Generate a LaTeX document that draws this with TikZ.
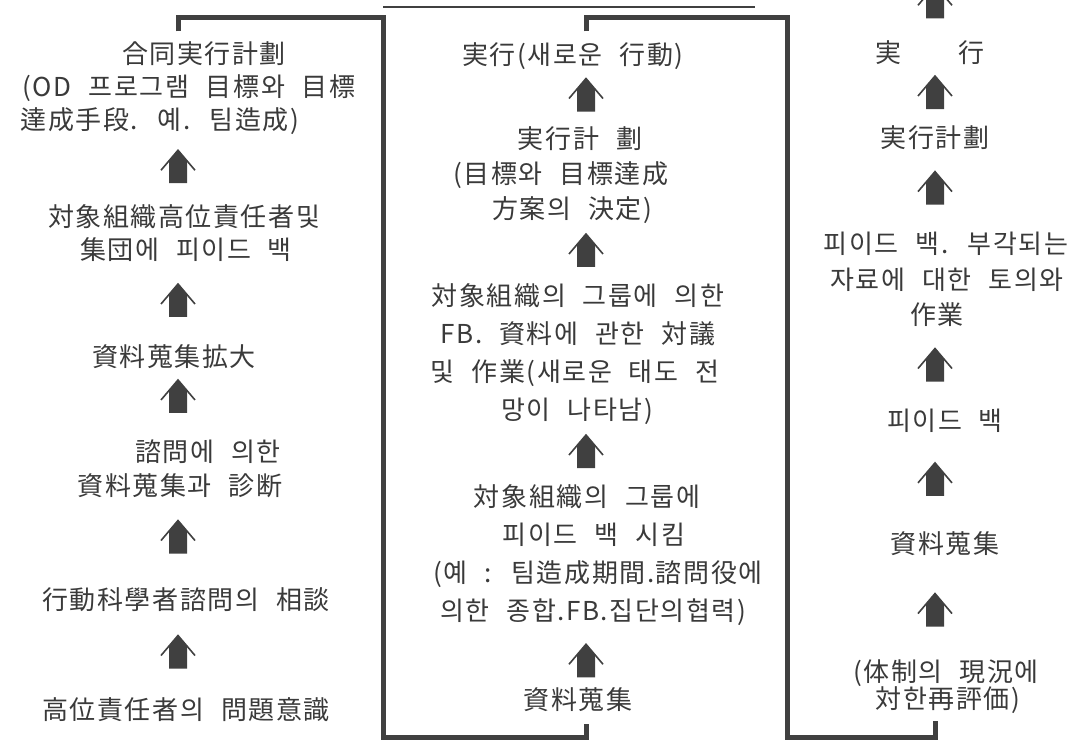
\documentclass[tikz,border=0pt]{standalone}
\usepackage{fontspec}
\setmainfont{Noto Sans CJK KR}[LetterSpace=6,WordSpace=2.3]
\usetikzlibrary{calc}
\definecolor{ink}{HTML}{404040}
\definecolor{txt}{HTML}{3A3A3A}
\newcommand\lsp[1]{\fontsize{26}{#1}\selectfont}
\newcommand\gap[1]{\rule{#1pt}{0pt}}
\tikzset{
  stepbox/.style={inner sep=0pt, align=center, text=txt, font=\lsp{34}},
  conn/.style={draw=ink, line width=5pt, line join=miter},
  rule line/.style={draw=ink, line width=1.4pt},
  uparr/.pic={
    \fill[ink] (-9,13.5) -- (-9,-9) -- (0,-19.5) -- (9,-9) -- (9,13.5) -- cycle;
    \draw[ink, line width=1.6pt] (-17,0.5) -- (0,-19.5) -- (17,0.5);
  }
}
\begin{document}
\begin{tikzpicture}[x=1pt,y=-1pt]
\useasboundingbox (0,0) rectangle (1084,742);
\clip (0,0) rectangle (1084,742);
\fill[white] (0,0) rectangle (1084,742);

% left column
\node[stepbox, font=\lsp{33}] (L1) at (178,88) {\gap{52}合同実行計劃\\\gap{22}(OD 프로그램 目標와 目標\\達成手段. 예. 팀造成)\gap{36}};
\node[stepbox, font=\lsp{33}] (L2) at (178,233.5) {\gap{12}対象組織高位責任者및\\\gap{16}集団에 피이드 백};
\node[stepbox] (L3) at (178,357) {資料蒐集拡大\gap{8}};
\node[stepbox] (L4) at (178,469) {\gap{60}諮問에 의한\\\gap{4}資料蒐集과 診断};
\node[stepbox] (L5) at (178,600) {\gap{16}行動科學者諮問의 相談};
\node[stepbox] (L6) at (178,710) {\gap{16}高位責任者의 問題意識};

% centre column
\node[stepbox] (C1) at (586,56) {実行(새로운 行動)\gap{26}};
\node[stepbox, font=\lsp{35}] (C2) at (586,175) {実行計 劃\gap{12}\\(目標와 目標達成\gap{50}\\方案의 決定)\gap{28}};
\node[stepbox, font=\lsp{38}] (C3) at (586,354) {対象組織의 그룹에 의한\gap{16}\\FB. 資料에 관한 対議\gap{16}\\및 作業(새로운 태도 전\gap{22}\\망이 나타남)\gap{18}};
\node[stepbox, font=\lsp{38}] (C4) at (586,555) {\gap{2}対象組織의 그룹에\\\gap{16}피이드 백 시킴\\\gap{24}(예 : 팀造成期間.諮問役에\\\gap{14}의한 종합.FB.집단의협력)};
\node[stepbox] (C5) at (586,700) {資料蒐集\gap{16}};

% right column
\node[stepbox] (R1) at (935,53) {実　　行\gap{10}};
\node[stepbox] (R2) at (935,138) {実行計劃};
\node[stepbox, font=\lsp{35.5}] (R3) at (935,279.5) {\gap{22}피이드 백. 부각되는\\\gap{24}자료에 대한 토의와\\\gap{4}作業};
\node[stepbox] (R4) at (935,421) {\gap{20}피이드 백};
\node[stepbox] (R5) at (935,544) {\gap{20}資料蒐集};
\node[stepbox, font=\lsp{27}] (R6) at (935,687) {\gap{22}(体制의 現況에\\\gap{26}対한再評価)};

% block arrows
\pic at ($(L1.south)!.5!(L2.north)$) {uparr};
\pic at ($(L2.south)!.5!(L3.north)$) {uparr};
\pic at ($(L3.south)!.5!(L4.north)+(0,-5)$) {uparr};
\pic at ($(L4.south)!.5!(L5.north)+(0,-3)$) {uparr};
\pic at ($(L5.south)!.5!(L6.north)$) {uparr};
\pic at ($(C1.south)!.5!(C2.north)$) {uparr};
\pic at ($(C2.south)!.5!(C3.north)$) {uparr};
\pic at ($(C3.south)!.5!(C4.north)$) {uparr};
\pic at ($(C4.south)!.5!(C5.north)+(0,7)$) {uparr};
\pic at ($(R1.north)+(0,-36)$) {uparr};
\pic at ($(R1.south)!.5!(R2.north)$) {uparr};
\pic at ($(R2.south)!.5!(R3.north)$) {uparr};
\pic at ($(R3.south)!.5!(R4.north)$) {uparr};
\pic at ($(R4.south)!.5!(R5.north)$) {uparr};
\pic at ($(R5.south)!.5!(R6.north)+(0,5)$) {uparr};

% feedback connectors
\coordinate (s1) at ($(L1.north)+(0,-10)$);
\coordinate (k1) at (383,17);
\coordinate (k2) at (383,737);
\coordinate (e1) at ($(C5.south)+(0,12)$);
\draw[conn] (s1) |- (k1) -- (k2) -| (e1);

\coordinate (s2) at ($(C1.north)+(0,-11)$);
\coordinate (k3) at (787,17);
\coordinate (k4) at (787,737);
\coordinate (e2) at ($(R6.south)+(0,7)$);
\draw[conn] (s2) |- (k3) -- (k4) -| (e2);

% thin rule at top
\coordinate (t1) at (383,7);
\coordinate (t2) at (755,7);
\draw[rule line] (t1) -- (t2);
\end{tikzpicture}
\end{document}
